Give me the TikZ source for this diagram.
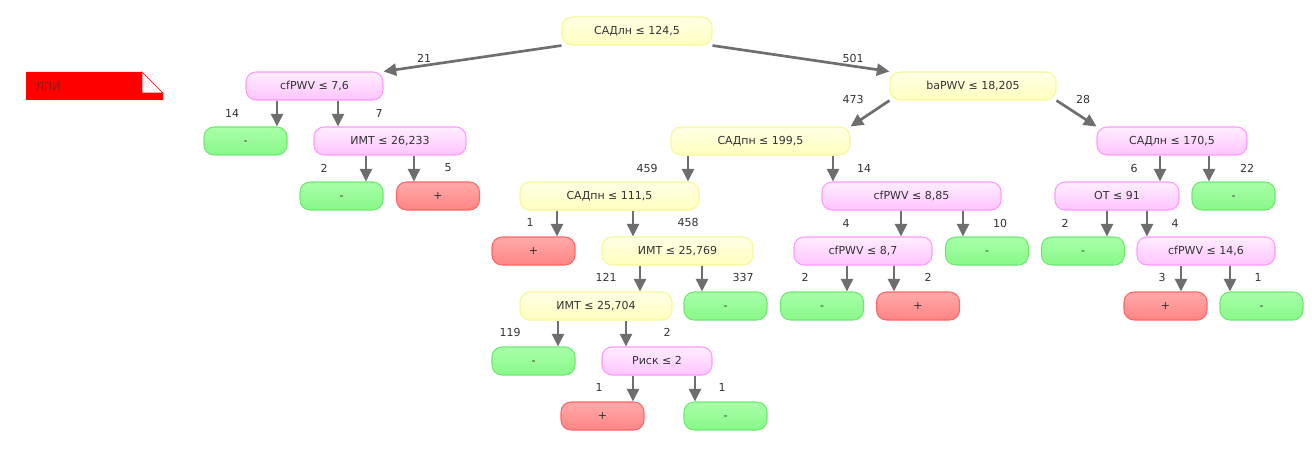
\documentclass[tikz,border=0pt]{standalone}
\usepackage{fontspec}
\setmainfont{DejaVu Sans}
\usepackage{tikz}
\usepackage{xcolor}
\usetikzlibrary{arrows.meta}

\definecolor{edgegray}{HTML}{6E6E6E}
\definecolor{txtgray}{HTML}{333333}
\definecolor{ylwtop}{HTML}{FFFFE6}
\definecolor{ylwbot}{HTML}{FFFFBE}
\definecolor{ylwline}{HTML}{F6F69A}
\definecolor{pnktop}{HTML}{FFEEFF}
\definecolor{pnkbot}{HTML}{FFC4FF}
\definecolor{pnkline}{HTML}{FF99FF}
\definecolor{negtop}{HTML}{A8FFA8}
\definecolor{negbot}{HTML}{88F888}
\definecolor{negline}{HTML}{70E870}
\definecolor{postop}{HTML}{FFAAAA}
\definecolor{posbot}{HTML}{FF8484}
\definecolor{posline}{HTML}{FF6666}
\definecolor{legred}{HTML}{FF0000}
\definecolor{legtext}{HTML}{8B1A1A}

\begin{document}
\begin{tikzpicture}[x=0.75pt,y=-0.75pt,
  font=\fontsize{8.25}{10}\selectfont, text=txtgray,
  box/.style={rounded corners=7.5pt, minimum height=21pt, minimum width=#1*0.75pt, inner sep=0pt,
    text height=0.6em, text depth=0.1em, line width=0.8pt},
  ylw/.style={box=#1, draw=ylwline, top color=ylwtop, bottom color=ylwbot},
  pnk/.style={box=#1, draw=pnkline, top color=pnktop, bottom color=pnkbot},
  negleaf/.style={box=83, draw=negline, top color=negtop, bottom color=negbot},
  posleaf/.style={box=83, draw=posline, top color=postop, bottom color=posbot},
  arr/.style={draw=edgegray, line width=2pt, -{Triangle[length=9.5pt,width=9pt]}}]
\useasboundingbox (0,0) rectangle (1312,449);

% legend
\fill[legred] (26,72) -- (142,72) -- (163,93) -- (163,100) -- (26,100) -- cycle;
\filldraw[fill=white, draw=legred, line width=0.5pt] (142,72) -- (163,93) -- (142,93) -- cycle;
\node[text=legtext, anchor=west] (legend) at (31,86) {ЛПИ};

% tree nodes
\node [ylw=150] (1) at (637,31) {САДлн ≤ 124,5};
\node [pnk=137] (2) at (314.5,86) {cfPWV ≤ 7,6};
\node [ylw=166] (3) at (973,86) {baPWV ≤ 18,205};
\node [negleaf] (4) at (245.5,141) {-};
\node [pnk=152] (5) at (390,141) {ИМТ ≤ 26,233};
\node [ylw=179] (6) at (760.5,141) {САДпн ≤ 199,5};
\node [pnk=150] (7) at (1172,141) {САДлн ≤ 170,5};
\node [negleaf] (8) at (341.5,196) {-};
\node [posleaf] (9) at (438,196) {+};
\node [ylw=179] (10) at (609.5,196) {САДпн ≤ 111,5};
\node [pnk=179] (11) at (911.5,196) {cfPWV ≤ 8,85};
\node [pnk=124] (12) at (1117,196) {ОТ ≤ 91};
\node [negleaf] (13) at (1233.5,196) {-};
\node [posleaf] (14) at (533.5,251) {+};
\node [ylw=151] (15) at (677.5,251) {ИМТ ≤ 25,769};
\node [pnk=138] (16) at (863,251) {cfPWV ≤ 8,7};
\node [negleaf] (17) at (987,251) {-};
\node [negleaf] (18) at (1083,251) {-};
\node [pnk=138] (19) at (1206,251) {cfPWV ≤ 14,6};
\node [ylw=152] (20) at (596,306) {ИМТ ≤ 25,704};
\node [negleaf] (21) at (725.5,306) {-};
\node [negleaf] (22) at (822,306) {-};
\node [posleaf] (23) at (918,306) {+};
\node [posleaf] (24) at (1165.5,306) {+};
\node [negleaf] (25) at (1261.5,306) {-};
\node [negleaf] (26) at (533.5,361) {-};
\node [pnk=110] (27) at (657,361) {Риск ≤ 2};
\node [posleaf] (28) at (602.5,416) {+};
\node [negleaf] (29) at (725.5,416) {-};

% connectors
\draw [arr] (1.south west) -- (2.north east);
\draw [arr] (1.south east) -- (3.north west);
\draw [arr] (3.south west) -- (6.north east);
\draw [arr] (3.south east) -- (7.north west);
\draw [arr] (2.south -| 277,0) -- (4.north -| 277,0);
\draw [arr] (2.south -| 338,0) -- (5.north -| 338,0);
\draw [arr] (5.south -| 366,0) -- (8.north -| 366,0);
\draw [arr] (5.south -| 414,0) -- (9.north -| 414,0);
\draw [arr] (6.south -| 688,0) -- (10.north -| 688,0);
\draw [arr] (6.south -| 833,0) -- (11.north -| 833,0);
\draw [arr] (7.south -| 1160,0) -- (12.north -| 1160,0);
\draw [arr] (7.south -| 1209,0) -- (13.north -| 1209,0);
\draw [arr] (10.south -| 557,0) -- (14.north -| 557,0);
\draw [arr] (10.south -| 633,0) -- (15.north -| 633,0);
\draw [arr] (11.south -| 901,0) -- (16.north -| 901,0);
\draw [arr] (11.south -| 963,0) -- (17.north -| 963,0);
\draw [arr] (12.south -| 1107,0) -- (18.north -| 1107,0);
\draw [arr] (12.south -| 1147,0) -- (19.north -| 1147,0);
\draw [arr] (15.south -| 640,0) -- (20.north -| 640,0);
\draw [arr] (15.south -| 702,0) -- (21.north -| 702,0);
\draw [arr] (16.south -| 847,0) -- (22.north -| 847,0);
\draw [arr] (16.south -| 894,0) -- (23.north -| 894,0);
\draw [arr] (19.south -| 1181,0) -- (24.north -| 1181,0);
\draw [arr] (19.south -| 1230,0) -- (25.north -| 1230,0);
\draw [arr] (20.south -| 558,0) -- (26.north -| 558,0);
\draw [arr] (20.south -| 626,0) -- (27.north -| 626,0);
\draw [arr] (27.south -| 633,0) -- (28.north -| 633,0);
\draw [arr] (27.south -| 695,0) -- (29.north -| 695,0);

% counts
\node (c2) at (424,58) {21};
\node (c3) at (853,58) {501};
\node (c4) at (232,113) {14};
\node (c5) at (379,113) {7};
\node (c6) at (853,99) {473};
\node (c7) at (1083,99) {28};
\node (c8) at (324,168) {2};
\node (c9) at (448,168) {5};
\node (c10) at (647,168) {459};
\node (c11) at (864,168) {14};
\node (c12) at (1134,168) {6};
\node (c13) at (1247,168) {22};
\node (c14) at (530,222) {1};
\node (c15) at (688,222) {458};
\node (c16) at (846,223) {4};
\node (c17) at (1000,223) {10};
\node (c18) at (1065,223) {2};
\node (c19) at (1175,223) {4};
\node (c20) at (606,277) {121};
\node (c21) at (743,277) {337};
\node (c22) at (805,277) {2};
\node (c23) at (928,277) {2};
\node (c24) at (1162,277) {3};
\node (c25) at (1258,277) {1};
\node (c26) at (510,332) {119};
\node (c27) at (667,332) {2};
\node (c28) at (599,387) {1};
\node (c29) at (722,387) {1};
\end{tikzpicture}
\end{document}
